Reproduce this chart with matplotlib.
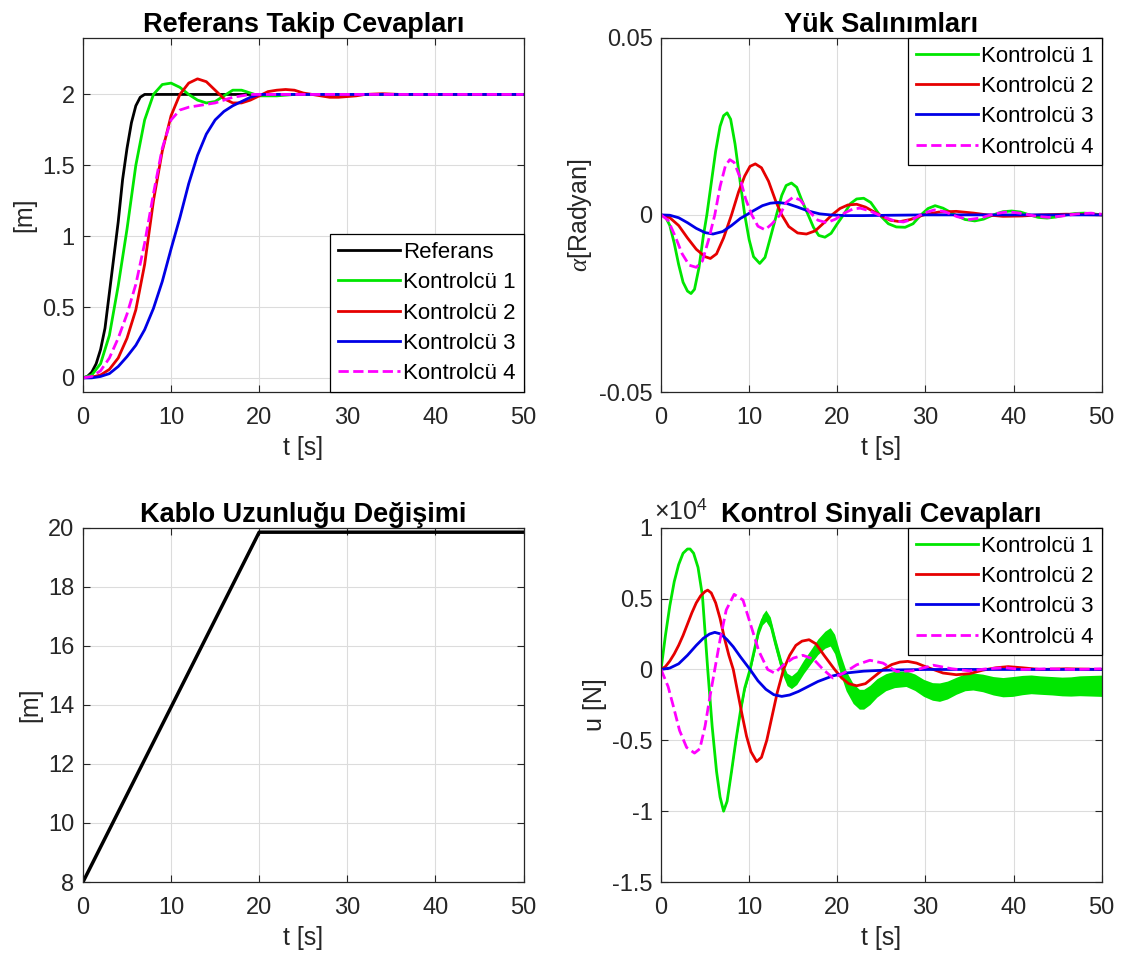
import matplotlib
matplotlib.use("Agg")
import matplotlib.pyplot as plt
import numpy as np

plt.rcParams["font.family"] = ["Liberation Sans", "DejaVu Sans"]
plt.rcParams["axes.unicode_minus"] = False
plt.rcParams["mathtext.fontset"] = "custom"
plt.rcParams["mathtext.it"] = "Liberation Serif:italic"
plt.rcParams["mathtext.rm"] = "Liberation Sans"

# ---------------------------------------------------------------------------
# Data
# ---------------------------------------------------------------------------
LABELS = ["Kontrolcü 1", "Kontrolcü 2", "Kontrolcü 3", "Kontrolcü 4"]

# reference tracking [m]
ref_t = [0, 0.5, 1, 1.5, 2, 2.5, 3, 3.5, 4, 4.5, 5, 5.5, 6, 6.5, 7, 50]
ref_y = [0, 0.01, 0.04, 0.1, 0.2, 0.35, 0.6, 0.85, 1.1, 1.4, 1.62, 1.8, 1.92, 1.98, 2.0, 2.0]

pos1_t = [0, 1, 2, 3, 4, 5, 6, 7, 8, 9, 10, 11, 12, 13, 14, 15, 16, 17, 18, 19, 20, 22, 24, 26, 50]
pos1_y = [0, 0.02, 0.1, 0.3, 0.65, 1.05, 1.5, 1.82, 2.0, 2.07, 2.08, 2.05, 2.0, 1.96, 1.94,
          1.95, 1.99, 2.03, 2.03, 2.01, 1.99, 1.99, 2.0, 2.0, 2.0]

pos2_t = [0, 1, 2, 3, 4, 5, 6, 7, 8, 9, 10, 11, 12, 13, 14, 15, 16, 17, 18, 19, 20, 21, 22,
          23, 24, 25, 26, 27, 28, 29, 30, 31, 32, 34, 36, 50]
pos2_y = [0, 0.005, 0.02, 0.06, 0.14, 0.28, 0.48, 0.8, 1.25, 1.6, 1.85, 2.0, 2.08, 2.11, 2.09,
          2.03, 1.97, 1.94, 1.94, 1.96, 1.99, 2.02, 2.03, 2.035, 2.03, 2.01, 2.0, 1.99, 1.98,
          1.98, 1.985, 1.99, 2.0, 2.005, 2.0, 2.0]

pos3_t = [0, 1, 2, 3, 4, 5, 6, 7, 8, 9, 10, 11, 12, 13, 14, 15, 16, 17, 18, 19, 20, 22, 50]
pos3_y = [0, 0, 0.01, 0.03, 0.08, 0.15, 0.23, 0.34, 0.49, 0.68, 0.91, 1.13, 1.37, 1.57, 1.72,
          1.82, 1.88, 1.92, 1.95, 1.98, 2.0, 2.0, 2.0]

pos4_t = [0, 1, 2, 3, 4, 5, 6, 7, 8, 9, 10, 11, 12, 13, 14, 15, 16, 17, 18, 19, 20, 22, 50]
pos4_y = [0, 0.01, 0.05, 0.14, 0.28, 0.45, 0.66, 0.95, 1.3, 1.62, 1.82, 1.89, 1.91, 1.92, 1.93,
          1.94, 1.96, 1.98, 1.99, 2.0, 2.0, 2.0, 2.0]

# load swing [rad]
sw1_t = [0, 0.5, 1.0, 1.5, 2.0, 2.5, 3.0, 3.4, 3.8, 4.3, 4.8, 5.2, 5.7, 6.2, 6.7, 7.1, 7.5, 7.9,
         8.4, 9.0, 9.5, 10.0, 10.5, 11.2, 11.8, 12.4, 13.1, 13.7, 14.2, 14.8, 15.4, 16.0, 16.7,
         17.3, 17.9, 18.6, 19.3, 20.0, 20.7, 21.5, 22.2, 23.0, 23.8, 24.8, 25.8, 26.7, 27.7,
         28.6, 29.5, 30.3, 31.1, 32.0, 33.4, 34.5, 35.6, 36.6, 37.7, 38.8, 39.8, 40.8, 41.8,
         42.8, 43.8, 44.8, 46.0, 47.0, 48.0, 49.0, 50.0]
sw1_y = [0, -0.0005, -0.003, -0.008, -0.014, -0.019, -0.0215, -0.0222, -0.021, -0.015, -0.006,
         0.0, 0.009, 0.018, 0.025, 0.028, 0.0288, 0.027, 0.02, 0.009, 0.0, -0.007, -0.0118,
         -0.0137, -0.012, -0.0065, 0.0, 0.0055, 0.0083, 0.009, 0.0078, 0.004, 0.0, -0.0035,
         -0.0058, -0.0063, -0.0052, -0.0025, 0.0, 0.0032, 0.0045, 0.0047, 0.0035, 0.0, -0.0025,
         -0.0034, -0.0035, -0.0025, 0.0, 0.0018, 0.0026, 0.0019, 0.0, -0.0013, -0.0017, -0.0012,
         0.0, 0.0009, 0.0011, 0.0008, 0.0, -0.0007, -0.0009, -0.0006, 0.0, 0.0004, 0.0005,
         0.0003, 0.0]

sw2_t = [0, 1, 2, 3, 4, 5, 5.6, 6.3, 7.1, 8.0, 8.8, 9.5, 10.1, 10.7, 11.4, 12.2, 13.0, 13.7,
         14.5, 15.5, 16.5, 17.5, 18.5, 19.4, 20.3, 21.2, 22.2, 23.2, 24.8, 26.0, 27.1, 28.3,
         29.8, 31.5, 33.5, 35.5, 37.0, 38.8, 41, 43, 46, 50]
sw2_y = [0, -0.0008, -0.003, -0.0065, -0.0097, -0.0118, -0.0123, -0.011, -0.0065, 0.0, 0.0065,
         0.011, 0.0137, 0.0144, 0.0133, 0.0095, 0.004, 0.0, -0.0033, -0.0051, -0.0054, -0.0045,
         -0.0022, 0.0, 0.0018, 0.0028, 0.003, 0.0022, 0.0, -0.0015, -0.0019, -0.0013, 0.0,
         0.0008, 0.001, 0.0005, 0.0, -0.0004, -0.0003, 0.0, 0.0002, 0.0]

sw3_t = [0, 1, 2, 3, 4, 5, 5.9, 7, 8, 9, 9.7, 10.5, 11.5, 12.4, 13.3, 14.3, 15.5, 16.7, 18,
         19.2, 21, 23, 26, 30, 50]
sw3_y = [0, -0.0001, -0.0008, -0.0022, -0.0038, -0.005, -0.0054, -0.0047, -0.003, -0.001, 0.0,
         0.0012, 0.0026, 0.0033, 0.0035, 0.0032, 0.0022, 0.0011, 0.0003, 0.0, -0.0002, -0.0002,
         -0.0001, 0.0, 0.0]

sw4_t = [0, 0.8, 1.6, 2.4, 3.2, 4.0, 4.7, 5.4, 6.1, 6.7, 7.3, 7.8, 8.3, 8.9, 9.6, 10.3, 11.0,
         11.8, 12.6, 13.5, 14.2, 15.0, 15.8, 16.8, 17.8, 18.8, 19.8, 20.8, 21.8, 22.6, 23.6, 25,
         26.5, 27.5, 28.6, 29.8, 31, 32.2, 33.6, 35, 36.4, 37.8, 39.4, 41, 42.6, 44, 45.6, 47.2,
         48.8, 50]
sw4_y = [0, -0.0015, -0.006, -0.011, -0.0142, -0.0148, -0.013, -0.007, 0.0, 0.008, 0.0138,
         0.0156, 0.0148, 0.011, 0.0045, 0.0, -0.0032, -0.0042, -0.0025, 0.0, 0.0035, 0.005,
         0.0042, 0.001, -0.0015, -0.0022, -0.0012, 0.0005, 0.0017, 0.0019, 0.0012, -0.0003,
         -0.0017, -0.002, -0.0012, 0.0005, 0.0014, 0.0009, -0.0005, -0.0013, -0.0008, 0.0003,
         0.0009, 0.0004, -0.0004, -0.0007, -0.0003, 0.0003, 0.0005, 0.0002]

# cable length [m]
cable_t = [0, 20, 50]
cable_l = [8, 19.85, 19.85]

# control signal [x1e4 N]; controller 1 carries a high-frequency band (half width)
u1_t = [0, 0.5, 1, 1.5, 2, 2.5, 3, 3.3, 3.7, 4.2, 4.7, 5.3, 5.8, 6.3, 6.7, 7.1, 7.5, 8.0, 8.5,
        9.0, 9.5, 10.1, 10.6, 11.1, 11.5, 11.9, 12.4, 13.0, 13.7, 14.3, 14.8, 15.4, 16.2, 17.0,
        17.8, 18.6, 19.2, 19.7, 20.3, 21.0, 21.8, 22.5, 23.0, 23.7, 24.5, 25.5, 26.5, 27.8,
        28.8, 29.8, 30.8, 31.6, 32.5, 33.5, 34.5, 35.4, 36.5, 37.7, 38.8, 39.9, 41, 42, 43,
        44.4, 45.5, 46.5, 47.5, 48.5, 50]
u1_y = [0, 0.24, 0.45, 0.62, 0.74, 0.82, 0.85, 0.85, 0.82, 0.72, 0.52, 0.0, -0.4, -0.72, -0.9,
        -1.0, -0.93, -0.72, -0.5, -0.3, -0.13, 0.0, 0.14, 0.28, 0.35, 0.38, 0.33, 0.18, 0.02,
        -0.07, -0.09, -0.06, 0.02, 0.09, 0.16, 0.21, 0.23, 0.18, 0.05, -0.08, -0.17, -0.21,
        -0.21, -0.18, -0.13, -0.09, -0.07, -0.065, -0.09, -0.13, -0.155, -0.16, -0.145, -0.115,
        -0.09, -0.085, -0.095, -0.115, -0.125, -0.12, -0.11, -0.105, -0.11, -0.115, -0.12,
        -0.12, -0.115, -0.115, -0.115]
u1_band = [0, 0, 0, 0, 0, 0, 0, 0, 0, 0, 0, 0, 0, 0, 0, 0, 0.005, 0.01, 0.015, 0.02, 0.022,
           0.025, 0.028, 0.032, 0.036, 0.04, 0.04, 0.04, 0.042, 0.044, 0.045, 0.046, 0.048,
           0.05, 0.055, 0.06, 0.065, 0.068, 0.07, 0.07, 0.07, 0.07, 0.07, 0.068, 0.065, 0.06,
           0.058, 0.055, 0.058, 0.06, 0.062, 0.065, 0.063, 0.06, 0.06, 0.06, 0.062, 0.065,
           0.068, 0.07, 0.068, 0.066, 0.065, 0.065, 0.066, 0.068, 0.07, 0.072, 0.075]

u2_t = [0, 0.5, 1, 1.5, 2, 2.5, 3, 3.5, 4, 4.5, 5, 5.3, 5.7, 6.2, 6.7, 7.2, 7.7, 8.2, 8.7, 9.2,
        9.7, 10.2, 10.85, 11.4, 12.0, 12.6, 13.2, 13.9, 14.6, 15.3, 16.0, 16.8, 17.6, 18.5,
        19.7, 20.5, 21.3, 22.2, 23.2, 24.2, 25.2, 26.2, 27.1, 28.0, 29.0, 30.0, 30.9, 32.0,
        33.5, 35, 36.5, 38, 39.4, 41, 43, 46, 50]
u2_y = [0, 0.02, 0.06, 0.11, 0.17, 0.24, 0.32, 0.4, 0.47, 0.52, 0.55, 0.56, 0.54, 0.47, 0.36,
        0.22, 0.1, 0.0, -0.16, -0.32, -0.47, -0.58, -0.65, -0.62, -0.5, -0.33, -0.16, 0.0, 0.1,
        0.17, 0.2, 0.21, 0.18, 0.1, 0.0, -0.06, -0.1, -0.115, -0.1, -0.05, 0.0, 0.035, 0.052,
        0.057, 0.045, 0.02, 0.0, -0.025, -0.037, -0.03, -0.005, 0.012, 0.02, 0.012, 0.0,
        0.005, 0.0]

u3_t = [0, 1, 2, 3, 4, 4.8, 5.5, 6.1, 6.8, 7.5, 8.2, 9.0, 10.1, 11.0, 11.9, 12.8, 13.7, 14.6,
        15.6, 16.7, 17.8, 19.5, 21, 23, 25, 27, 30, 35, 40, 50]
u3_y = [0, 0.01, 0.04, 0.1, 0.17, 0.22, 0.25, 0.262, 0.25, 0.21, 0.16, 0.09, 0.0, -0.08, -0.14,
        -0.178, -0.19, -0.18, -0.155, -0.12, -0.085, -0.045, -0.025, -0.012, -0.006, -0.003,
        0.0, 0.0, 0.0, 0.0]

u4_t = [0, 0.8, 1.4, 2.1, 2.9, 3.8, 4.4, 5.0, 5.5, 6.1, 6.7, 7.4, 8.3, 9.3, 10.3, 11.1, 12.1,
        12.9, 13.9, 15.0, 16.1, 17.3, 18.4, 19.5, 20.7, 22.2, 23.7, 25.2, 26.7, 28.5, 30.9, 33,
        35, 37, 39, 41, 44, 47, 50]
u4_y = [0, -0.12, -0.26, -0.43, -0.55, -0.59, -0.56, -0.4, -0.21, 0.0, 0.21, 0.42, 0.53, 0.49,
        0.29, 0.13, 0.0, -0.026, 0.033, 0.08, 0.1, 0.073, 0.0, -0.06, -0.026, 0.033, 0.065,
        0.045, -0.014, -0.01, 0.03, 0.005, -0.01, 0.005, 0.012, 0.0, 0.005, 0.0, 0.005]

GREEN = "#00e600"
RED = "#e60000"
BLUE = "#0000e6"
MAGENTA = "#ff00ff"
INK = "#262626"
LW = 2.0
TICK_FS = 17
LABEL_FS = 18
TITLE_FS = 19.5


def style_axes(ax):
    ax.grid(True, color="#dcdcdc", linewidth=0.8)
    ax.set_axisbelow(True)
    ax.tick_params(direction="in", length=5, width=0.8, top=True, right=True,
                   labelsize=TICK_FS, colors=INK)
    ax.tick_params(axis="x", pad=11)
    ax.tick_params(axis="y", pad=6)
    for s in ax.spines.values():
        s.set_color(INK)
        s.set_linewidth(0.9)
    ax.set_xlim(0, 50)
    ax.set_xticks(range(0, 51, 10))
    ax.set_xlabel("t [s]", fontsize=LABEL_FS, color=INK, labelpad=5)


def set_title(ax, text):
    ax.set_title(text, fontsize=TITLE_FS, fontweight="bold", pad=4)


def add_legend(ax, loc):
    leg = ax.legend(loc=loc, fontsize=16, frameon=True, fancybox=False,
                    edgecolor="black", framealpha=1, borderaxespad=0,
                    handlelength=2.8, handletextpad=0.15, labelspacing=0.42,
                    borderpad=0.35)
    leg.get_frame().set_linewidth(0.9)


fig = plt.figure(figsize=(11.24, 9.68), dpi=100)
W, H = 0.392, 0.366
ax1 = fig.add_axes([0.0738, 0.595, W, H])
ax2 = fig.add_axes([0.5881, 0.595, W, H])
ax3 = fig.add_axes([0.0738, 0.0888, W, H])
ax4 = fig.add_axes([0.5881, 0.0888, W, H])

# --- Referans Takip Cevaplari
ax1.plot(ref_t, ref_y, color="black", lw=LW, label="Referans")
ax1.plot(pos1_t, pos1_y, color=GREEN, lw=LW, label=LABELS[0])
ax1.plot(pos2_t, pos2_y, color=RED, lw=LW, label=LABELS[1])
ax1.plot(pos3_t, pos3_y, color=BLUE, lw=LW, label=LABELS[2])
ax1.plot(pos4_t, pos4_y, color=MAGENTA, lw=LW, ls="--", label=LABELS[3])
style_axes(ax1)
ax1.set_ylim(-0.1, 2.4)
ax1.set_yticks([0, 0.5, 1, 1.5, 2])
ax1.set_yticklabels(["0", "0.5", "1", "1.5", "2"])
ax1.set_ylabel("[m]", fontsize=LABEL_FS, color=INK)
set_title(ax1, "Referans Takip Cevapları")
add_legend(ax1, "lower right")

# --- Yuk Salinimlari
ax2.plot(sw1_t, sw1_y, color=GREEN, lw=LW, label=LABELS[0])
ax2.plot(sw2_t, sw2_y, color=RED, lw=LW, label=LABELS[1])
ax2.plot(sw3_t, sw3_y, color=BLUE, lw=LW, label=LABELS[2])
ax2.plot(sw4_t, sw4_y, color=MAGENTA, lw=LW, ls="--", label=LABELS[3])
style_axes(ax2)
ax2.set_ylim(-0.05, 0.05)
ax2.set_yticks([-0.05, 0, 0.05])
ax2.set_yticklabels(["-0.05", "0", "0.05"])
ax2.set_ylabel(r"$\it{\alpha}$[Radyan]", fontsize=LABEL_FS, color=INK)
set_title(ax2, "Yük Salınımları")
add_legend(ax2, "upper right")

# --- Kablo Uzunlugu Degisimi
ax3.plot(cable_t, cable_l, color="black", lw=2.5)
style_axes(ax3)
ax3.set_ylim(8, 20)
ax3.set_yticks(range(8, 21, 2))
ax3.set_ylabel("[m]", fontsize=LABEL_FS, color=INK)
set_title(ax3, "Kablo Uzunluğu Değişimi")

# --- Kontrol Sinyali Cevaplari
u1c = np.array(u1_y) * 1e4
u1b = np.array(u1_band) * 1e4
ax4.fill_between(u1_t, u1c - u1b, u1c + u1b, color=GREEN, lw=0)
ax4.plot(u1_t, u1c, color=GREEN, lw=LW, label=LABELS[0])
ax4.plot(u2_t, np.array(u2_y) * 1e4, color=RED, lw=LW, label=LABELS[1])
ax4.plot(u3_t, np.array(u3_y) * 1e4, color=BLUE, lw=LW, label=LABELS[2])
ax4.plot(u4_t, np.array(u4_y) * 1e4, color=MAGENTA, lw=LW, ls="--", label=LABELS[3])
style_axes(ax4)
ax4.set_ylim(-1.5e4, 1e4)
ax4.set_yticks([-1.5e4, -1e4, -0.5e4, 0, 0.5e4, 1e4])
ax4.set_yticklabels(["-1.5", "-1", "-0.5", "0", "0.5", "1"])
ax4.text(-0.015, 1.01, r"$\times10^4$", transform=ax4.transAxes, fontsize=18,
         color=INK, ha="left", va="bottom")
ax4.set_ylabel("u [N]", fontsize=LABEL_FS, color=INK)
set_title(ax4, "Kontrol Sinyali Cevapları")
add_legend(ax4, "upper right")

fig.savefig("out.png", dpi=100, facecolor="white")
